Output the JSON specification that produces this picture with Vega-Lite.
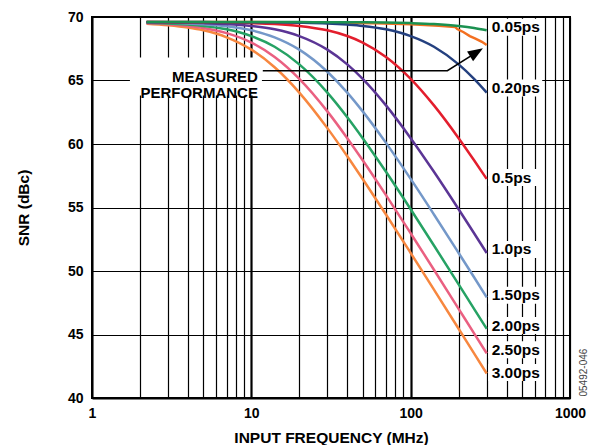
{
  "$schema": "https://vega.github.io/schema/vega-lite/v6.json",
  "width": 478,
  "height": 381,
  "autosize": "none",
  "padding": {"left": 92, "top": 17, "right": 26, "bottom": 47},
  "background": "white",
  "config": {
    "font": "Liberation Sans",
    "view": {"stroke": "black", "strokeWidth": 2},
    "axis": {
      "grid": true,
      "gridColor": "black",
      "gridOpacity": 1,
      "tickSize": 0,
      "domainColor": "black",
      "domainWidth": 2,
      "labelFont": "Liberation Sans",
      "labelFontWeight": "bold",
      "labelFontSize": 14,
      "labelColor": "black",
      "labelOverlap": false,
      "labelFlush": false,
      "labelBound": false,
      "titleFont": "Liberation Sans",
      "titleFontWeight": "bold",
      "titleFontSize": 15.5,
      "titleColor": "black"
    }
  },
  "datasets": {
    "curves": [
      {"s":"3.00ps","f":2.2,"v":69.47},{"s":"3.00ps","f":3,"v":69.35},{"s":"3.00ps","f":4,"v":69.17},{"s":"3.00ps","f":5,"v":68.95},{"s":"3.00ps","f":7,"v":68.40},{"s":"3.00ps","f":10,"v":67.43},{"s":"3.00ps","f":14,"v":66.04},{"s":"3.00ps","f":20,"v":64.05},{"s":"3.00ps","f":30,"v":61.25},{"s":"3.00ps","f":40,"v":59.04},{"s":"3.00ps","f":50,"v":57.24},{"s":"3.00ps","f":70,"v":54.45},{"s":"3.00ps","f":100,"v":51.42},{"s":"3.00ps","f":140,"v":48.53},{"s":"3.00ps","f":200,"v":45.45},{"s":"3.00ps","f":250,"v":43.51},{"s":"3.00ps","f":300,"v":41.93},
      {"s":"2.50ps","f":2.2,"v":69.51},{"s":"2.50ps","f":3,"v":69.43},{"s":"2.50ps","f":4,"v":69.30},{"s":"2.50ps","f":5,"v":69.14},{"s":"2.50ps","f":7,"v":68.73},{"s":"2.50ps","f":10,"v":67.99},{"s":"2.50ps","f":14,"v":66.85},{"s":"2.50ps","f":20,"v":65.13},{"s":"2.50ps","f":30,"v":62.57},{"s":"2.50ps","f":40,"v":60.46},{"s":"2.50ps","f":50,"v":58.72},{"s":"2.50ps","f":70,"v":55.97},{"s":"2.50ps","f":100,"v":52.97},{"s":"2.50ps","f":140,"v":50.10},{"s":"2.50ps","f":200,"v":47.02},{"s":"2.50ps","f":250,"v":45.09},{"s":"2.50ps","f":300,"v":43.52},
      {"s":"2.00ps","f":2.2,"v":69.54},{"s":"2.00ps","f":3,"v":69.49},{"s":"2.00ps","f":4,"v":69.40},{"s":"2.00ps","f":5,"v":69.30},{"s":"2.00ps","f":7,"v":69.03},{"s":"2.00ps","f":10,"v":68.50},{"s":"2.00ps","f":14,"v":67.66},{"s":"2.00ps","f":20,"v":66.27},{"s":"2.00ps","f":30,"v":64.05},{"s":"2.00ps","f":40,"v":62.11},{"s":"2.00ps","f":50,"v":60.46},{"s":"2.00ps","f":70,"v":57.81},{"s":"2.00ps","f":100,"v":54.86},{"s":"2.00ps","f":140,"v":52.01},{"s":"2.00ps","f":200,"v":48.95},{"s":"2.00ps","f":250,"v":47.02},{"s":"2.00ps","f":300,"v":45.45},
      {"s":"1.50ps","f":2.2,"v":69.57},{"s":"1.50ps","f":3,"v":69.54},{"s":"1.50ps","f":4,"v":69.49},{"s":"1.50ps","f":5,"v":69.43},{"s":"1.50ps","f":7,"v":69.27},{"s":"1.50ps","f":10,"v":68.95},{"s":"1.50ps","f":14,"v":68.40},{"s":"1.50ps","f":20,"v":67.43},{"s":"1.50ps","f":30,"v":65.69},{"s":"1.50ps","f":40,"v":64.05},{"s":"1.50ps","f":50,"v":62.57},{"s":"1.50ps","f":70,"v":60.09},{"s":"1.50ps","f":100,"v":57.25},{"s":"1.50ps","f":140,"v":54.45},{"s":"1.50ps","f":200,"v":51.42},{"s":"1.50ps","f":250,"v":49.51},{"s":"1.50ps","f":300,"v":47.93},
      {"s":"1.0ps","f":2.2,"v":69.58},{"s":"1.0ps","f":3,"v":69.57},{"s":"1.0ps","f":4,"v":69.55},{"s":"1.0ps","f":5,"v":69.52},{"s":"1.0ps","f":7,"v":69.45},{"s":"1.0ps","f":10,"v":69.30},{"s":"1.0ps","f":14,"v":69.03},{"s":"1.0ps","f":20,"v":68.50},{"s":"1.0ps","f":30,"v":67.43},{"s":"1.0ps","f":40,"v":66.27},{"s":"1.0ps","f":50,"v":65.13},{"s":"1.0ps","f":70,"v":63.04},{"s":"1.0ps","f":100,"v":60.46},{"s":"1.0ps","f":140,"v":57.81},{"s":"1.0ps","f":200,"v":54.86},{"s":"1.0ps","f":250,"v":52.97},{"s":"1.0ps","f":300,"v":51.42},
      {"s":"0.5ps","f":2.2,"v":69.60},{"s":"0.5ps","f":3,"v":69.59},{"s":"0.5ps","f":4,"v":69.59},{"s":"0.5ps","f":5,"v":69.58},{"s":"0.5ps","f":7,"v":69.56},{"s":"0.5ps","f":10,"v":69.52},{"s":"0.5ps","f":14,"v":69.45},{"s":"0.5ps","f":20,"v":69.30},{"s":"0.5ps","f":30,"v":68.95},{"s":"0.5ps","f":40,"v":68.50},{"s":"0.5ps","f":50,"v":67.99},{"s":"0.5ps","f":70,"v":66.85},{"s":"0.5ps","f":100,"v":65.13},{"s":"0.5ps","f":140,"v":63.04},{"s":"0.5ps","f":200,"v":60.46},{"s":"0.5ps","f":250,"v":58.72},{"s":"0.5ps","f":300,"v":57.25},
      {"s":"0.20ps","f":2.2,"v":69.60},{"s":"0.20ps","f":3,"v":69.60},{"s":"0.20ps","f":4,"v":69.60},{"s":"0.20ps","f":5,"v":69.60},{"s":"0.20ps","f":7,"v":69.59},{"s":"0.20ps","f":10,"v":69.59},{"s":"0.20ps","f":14,"v":69.58},{"s":"0.20ps","f":20,"v":69.55},{"s":"0.20ps","f":30,"v":69.49},{"s":"0.20ps","f":40,"v":69.40},{"s":"0.20ps","f":50,"v":69.30},{"s":"0.20ps","f":70,"v":69.03},{"s":"0.20ps","f":100,"v":68.50},{"s":"0.20ps","f":140,"v":67.66},{"s":"0.20ps","f":200,"v":66.27},{"s":"0.20ps","f":250,"v":65.13},{"s":"0.20ps","f":300,"v":64.05},
      {"s":"0.05ps","f":2.2,"v":69.60},{"s":"0.05ps","f":3,"v":69.60},{"s":"0.05ps","f":4,"v":69.60},{"s":"0.05ps","f":5,"v":69.60},{"s":"0.05ps","f":7,"v":69.60},{"s":"0.05ps","f":10,"v":69.60},{"s":"0.05ps","f":14,"v":69.60},{"s":"0.05ps","f":20,"v":69.60},{"s":"0.05ps","f":30,"v":69.59},{"s":"0.05ps","f":40,"v":69.59},{"s":"0.05ps","f":50,"v":69.58},{"s":"0.05ps","f":70,"v":69.56},{"s":"0.05ps","f":100,"v":69.52},{"s":"0.05ps","f":140,"v":69.45},{"s":"0.05ps","f":200,"v":69.30},{"s":"0.05ps","f":250,"v":69.14},{"s":"0.05ps","f":300,"v":68.95}
    ],
    "measured": [
      {"f":2.2,"v":69.6},{"f":10,"v":69.6},{"f":30,"v":69.55},{"f":60,"v":69.5},{"f":100,"v":69.42},{"f":150,"v":69.32},{"f":190,"v":69.22},{"f":196,"v":69.05},{"f":215,"v":68.8},{"f":235,"v":68.5},{"f":255,"v":68.3},{"f":280,"v":68.05},{"f":300,"v":67.8}
    ],
    "lbl": [
      {"label":"0.05ps","f":300,"v":69.2},{"label":"0.20ps","f":300,"v":64.4},{"label":"0.5ps","f":300,"v":57.36},{"label":"1.0ps","f":300,"v":51.7},{"label":"1.50ps","f":300,"v":48.1},{"label":"2.00ps","f":300,"v":45.7},{"label":"2.50ps","f":300,"v":43.8},{"label":"3.00ps","f":300,"v":42.0}
    ],
    "arrow": [
      {"o":1,"f":11.8,"v":65.77},{"o":2,"f":170,"v":65.77},{"o":3,"f":259,"v":67.22}
    ],
    "note": [
      {"f":11,"v":65.24,"text":"MEASURED\nPERFORMANCE"}
    ]
  },
  "encoding": {
    "x": {
      "field": "f",
      "type": "quantitative",
      "scale": {"type": "log", "domain": [1, 1000], "nice": false},
      "axis": {
        "title": "INPUT FREQUENCY (MHz)",
        "values": [1,2,3,4,5,6,7,8,9,10,20,30,40,50,60,70,80,90,100,200,300,400,500,600,700,800,900,1000],
        "labelExpr": "indexof([1,10,100,1000], datum.value) >= 0 ? format(datum.value, 'd') : ''",
        "gridWidth": {"condition": {"test": "datum.value == 10 || datum.value == 100", "value": 2.2}, "value": 1.2},
        "labelPadding": 8,
        "titleY": 39,
        "titleBaseline": "middle"
      }
    },
    "y": {
      "field": "v",
      "type": "quantitative",
      "scale": {"domain": [40, 70], "nice": false},
      "axis": {
        "title": "SNR (dBc)",
        "values": [40,45,50,55,60,65,70],
        "gridWidth": 1.2,
        "labelPadding": 9,
        "titleX": -69,
        "titleBaseline": "middle"
      }
    }
  },
  "layer": [
    {
      "data": {"name": "note"},
      "mark": {"type": "rect", "width": 132, "height": 38, "xOffset": -62, "yOffset": -1, "fill": "white", "stroke": null},
      "encoding": {}
    },
    {
      "data": {"name": "measured"},
      "mark": {"type": "line", "color": "#F37021", "strokeWidth": 2.5},
      "encoding": {}
    },
    {
      "data": {"name": "curves"},
      "mark": {"type": "line", "strokeWidth": 2.5, "interpolate": "monotone"},
      "encoding": {
        "color": {
          "field": "s",
          "type": "nominal",
          "legend": null,
          "scale": {
            "domain": ["3.00ps","2.50ps","2.00ps","1.50ps","1.0ps","0.5ps","0.20ps","0.05ps"],
            "range": ["#F7873F","#EA6081","#26A264","#7498C9","#5B3595","#E31E2D","#24407F","#1B9150"]
          }
        }
      }
    },
    {
      "data": {"name": "arrow"},
      "mark": {"type": "line", "color": "black", "strokeWidth": 1.6},
      "encoding": {"order": {"field": "o"}}
    },
    {
      "data": {"values": [{"f": 259, "v": 67.22}]},
      "mark": {"type": "point", "shape": "M0,-1L0.75,1L-0.75,1Z", "filled": true, "color": "black", "opacity": 1, "size": 230, "angle": 58},
      "encoding": {}
    },
    {
      "data": {"name": "note"},
      "mark": {"type": "text", "align": "right", "baseline": "middle", "lineBreak": "\n", "lineHeight": 16, "fontSize": 15, "fontWeight": "bold", "fill": "black"},
      "encoding": {"text": {"field": "text"}}
    },
    {
      "data": {"name": "lbl"},
      "mark": {"type": "rect", "width": 54, "height": 17, "xOffset": 28.5, "fill": "white", "stroke": null},
      "encoding": {}
    },
    {
      "data": {"name": "lbl"},
      "mark": {"type": "text", "align": "left", "baseline": "middle", "dx": 5, "fontSize": 15.5, "fontWeight": "bold", "fill": "black"},
      "encoding": {"text": {"field": "label"}}
    },
    {
      "data": {"values": [{"f": 1216, "v": 42}]},
      "mark": {"type": "text", "angle": 270, "align": "center", "baseline": "middle", "fontSize": 10, "fill": "#444444", "text": "05492-046"},
      "encoding": {}
    }
  ]
}
